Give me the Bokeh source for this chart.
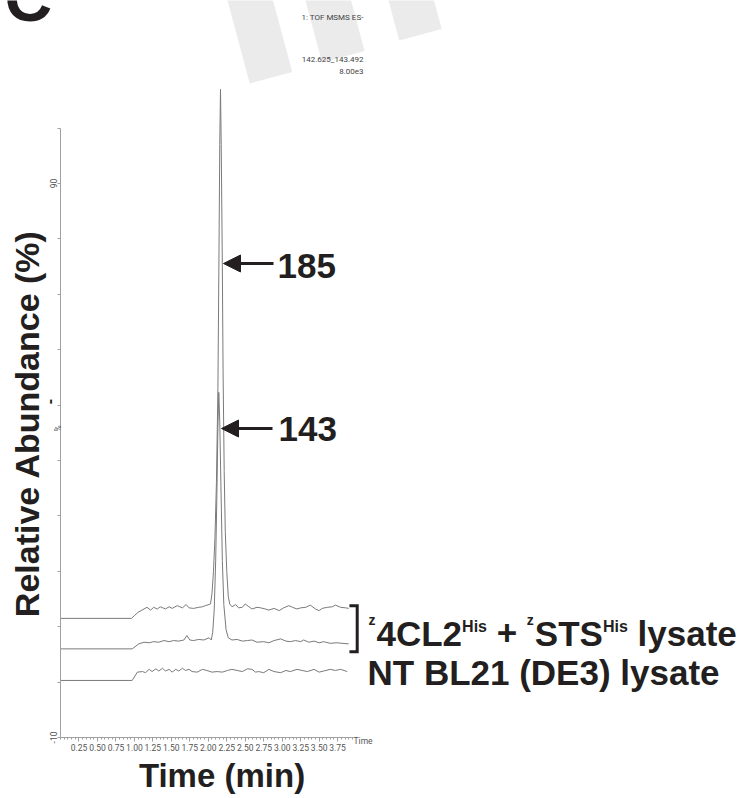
import math
from bokeh.plotting import figure
from bokeh.models import (Label, Arrow, NormalHead, FixedTicker, NumeralTickFormatter,
                          CustomJSTickFormatter, Range1d)
from bokeh.embed import file_html
from bokeh.resources import INLINE

# ---------------- data ----------------
# trace 1 : m/z 185 (zSTS + z4CL2 lysate), offset trace
t1 = [0.00, 0.96, 1.00, 1.05, 1.13, 1.17, 1.22, 1.26, 1.31, 1.35, 1.42, 1.47, 1.51, 1.58, 1.65,
      1.70, 1.74, 1.80, 1.87, 1.92, 1.96, 2.01, 2.03,
      2.05, 2.07, 2.09, 2.11, 2.13, 2.145, 2.155, 2.165, 2.175, 2.19, 2.20, 2.215, 2.23, 2.25,
      2.27, 2.29,
      2.32, 2.37, 2.41, 2.46, 2.50, 2.55, 2.59, 2.66, 2.71, 2.77, 2.82, 2.89, 2.96, 3.02, 3.09,
      3.14, 3.20, 3.25, 3.32, 3.38, 3.45, 3.50, 3.54, 3.61, 3.68, 3.72, 3.79, 3.86, 3.90]
v1 = [11.5, 11.5, 12.0, 12.6, 13.2, 13.5, 13.0, 13.5, 13.2, 13.6, 13.2, 13.6, 13.3, 13.8, 13.4,
      14.0, 13.4, 13.3, 13.5, 13.6, 13.8, 14.0, 14.1,
      16.0, 20.0, 26.0, 36.0, 53.0, 78.0, 97.0, 107.0, 97.0, 75.0, 56.0, 38.0, 27.0, 20.0,
      15.5, 14.1,
      13.6, 14.0, 13.4, 13.5, 14.1, 13.6, 13.2, 13.5, 13.4, 13.2, 13.0, 13.3, 12.9, 13.4, 13.8,
      13.5, 13.2, 13.4, 13.5, 13.9, 13.2, 12.9, 13.3, 13.5, 13.6, 13.9, 13.5, 13.4, 13.3]

# trace 2 : m/z 143 (zSTS + z4CL2 lysate)
t2 = [0.00, 0.97, 1.06, 1.13, 1.20, 1.26, 1.33, 1.40, 1.47, 1.53, 1.60, 1.67, 1.71, 1.75, 1.80,
      1.87, 1.94, 2.01, 2.04,
      2.06, 2.08, 2.10, 2.115, 2.13, 2.142, 2.155, 2.17, 2.19, 2.21, 2.24, 2.27,
      2.32, 2.39, 2.46, 2.53, 2.59, 2.66, 2.75, 2.82, 2.89, 2.98, 3.05, 3.11, 3.18, 3.25, 3.29,
      3.36, 3.43, 3.50, 3.56, 3.65, 3.74, 3.81, 3.90]
v2 = [6.0, 6.0, 6.9, 7.2, 7.1, 7.3, 7.2, 7.5, 7.3, 7.5, 7.4, 7.6, 8.4, 7.6, 7.5,
      7.7, 7.6, 8.0, 7.6,
      9.0, 13.0, 22.0, 33.0, 46.0, 52.3, 47.0, 36.0, 22.0, 14.0, 9.5, 8.0,
      7.6, 7.7, 7.4, 7.5, 7.6, 7.2, 7.3, 7.1, 7.5, 7.8, 7.4, 7.3, 7.5, 7.3, 7.6,
      7.2, 7.4, 7.1, 7.3, 7.0, 7.1, 7.0, 6.9]

# trace 3 : NT BL21 (DE3) lysate (control)
t3 = [0.00, 0.97, 1.04, 1.11, 1.15, 1.20, 1.24, 1.29, 1.33, 1.38, 1.42, 1.47, 1.51, 1.56, 1.60,
      1.65, 1.69, 1.74, 1.78, 1.85, 1.92, 1.98, 2.05, 2.12, 2.19, 2.26, 2.32, 2.39, 2.46, 2.53,
      2.59, 2.64, 2.68, 2.75, 2.82, 2.89, 2.98, 3.05, 3.11, 3.20, 3.27, 3.34, 3.43, 3.50, 3.56,
      3.65, 3.72, 3.79, 3.88]
v3 = [0.3, 0.3, 1.8, 1.9, 1.7, 2.3, 1.9, 2.4, 2.0, 2.5, 2.0, 2.3, 1.8, 2.3, 2.0,
      2.5, 2.1, 2.3, 1.9, 1.8, 2.3, 2.1, 1.8, 1.9, 1.8, 2.1, 2.3, 2.1, 1.9, 2.4,
      2.3, 1.8, 1.9, 1.7, 2.3, 1.9, 1.7, 2.1, 1.9, 2.3, 2.1, 1.9, 2.3, 1.8, 2.0,
      2.3, 2.1, 2.3, 1.9]

x_ticks = [0.25, 0.50, 0.75, 1.00, 1.25, 1.50, 1.75, 2.00, 2.25, 2.50, 2.75, 3.00, 3.25, 3.50, 3.75]
y_ticks = [-10, 0, 10, 20, 30, 40, 50, 60, 70, 80, 90, 100]
y_labelled = [90, -10]
x_axis_end = 3.97

# ---------------- layout helpers (canvas pixel -> data) ----------------
X0_PX, PX_PER_MIN = 60.0, 73.9
Y90_PX, PX_PER_UNIT = 183.0, 5.54
W_PX, H_PX = 744, 798
def tx(px):
    return (px - X0_PX) / PX_PER_MIN
def vy(py):
    return 90.0 - (py - Y90_PX) / PX_PER_UNIT

INK = "#231f20"
TRACE = "#7a7a7a"
AXIS = "#a0a0a0"
SMALL = "#555555"
BOLD = "Liberation Sans"
THIN = "Roboto"

p = figure(width=W_PX, height=H_PX, output_backend="svg", toolbar_location=None,
           x_range=Range1d(tx(0), tx(W_PX)), y_range=Range1d(vy(H_PX), vy(0)),
           min_border=0, background_fill_color="white", border_fill_color="white")
p.title.visible = False
p.outline_line_color = None
p.grid.visible = False

# ---- watermark stripes (decoration) ----
theta = math.radians(15)
stripe_specs = [(227, 83, 44), (305, 62, 44), (388, 40, 44)]  # top-left x, bottom-left y, width (px)
sx, sy = [], []
for x_top, y_bot, w in stripe_specs:
    xbl = x_top + math.tan(theta) * y_bot
    xbr = xbl + w * math.cos(theta)
    ybr = y_bot - w * math.sin(theta)
    xtr = xbr - math.tan(theta) * ybr
    pts = [(x_top - math.tan(theta) * 5, -5), (xtr - math.tan(theta) * 5, -5), (xbr, ybr), (xbl, y_bot)]
    sx.append([tx(a) for a, b in pts])
    sy.append([vy(b) for a, b in pts])
p.patches(sx, sy, fill_color="#ebebeb", line_color=None)

# ---- traces ----
for tt, vv in [(t3, v3), (t2, v2), (t1, v1)]:
    p.line(tt, vv, line_color=TRACE, line_width=1)

# ---- axes (fixed inside the frame) ----
xa = p.xaxis[0]
xa.fixed_location = -10
xa.bounds = (0, x_axis_end)
xa.ticker = FixedTicker(ticks=x_ticks, minor_ticks=[round(i * 0.05, 2) for i in range(0, 80)])
xa.formatter = NumeralTickFormatter(format="0.00")
xa.axis_line_color = AXIS
xa.major_tick_line_color = AXIS
xa.minor_tick_line_color = AXIS
xa.major_tick_in = 0
xa.major_tick_out = 4
xa.minor_tick_in = 0
xa.minor_tick_out = 2
xa.major_label_text_font = THIN
xa.major_label_text_font_size = "8.5px"
xa.major_label_text_color = SMALL
xa.major_label_standoff = 2

ya = p.yaxis[0]
ya.fixed_location = 0
ya.bounds = (-10, 100)
ya.ticker = FixedTicker(ticks=y_ticks, minor_ticks=[])
ya.formatter = CustomJSTickFormatter(args=dict(show=y_labelled),
                                     code="return show.indexOf(tick) >= 0 ? String(tick) : '';")
ya.axis_line_color = AXIS
ya.major_tick_line_color = AXIS
ya.major_tick_in = 0
ya.major_tick_out = 3
ya.minor_tick_line_color = None
ya.major_label_orientation = "vertical"
ya.major_label_text_font = THIN
ya.major_label_text_font_size = "8.5px"
ya.major_label_text_color = SMALL
ya.major_label_standoff = 1

def lab(text, x_px, y_mid_px, size, font=BOLD, style="bold", color=INK, align="left",
        angle=0.0):
    p.add_layout(Label(x=tx(x_px), y=vy(y_mid_px), text=text, text_font=font,
                       text_font_size=f"{size}px", text_font_style=style, text_color=color,
                       text_align=align, text_baseline="middle", angle=angle))

# axis titles
lab("Relative Abundance (%)", 26, 423, 34, align="center", angle=math.pi / 2)
lab("Time (min)", 221.5, 775, 33, align="center")
lab("Time", 353, 740, 8.5, font=THIN, style="normal", color=SMALL)
lab("%", 57, 428, 8.5, font=THIN, style="normal", color=SMALL, align="center", angle=math.pi / 2)
lab("-", 48, 401, 16, align="center", angle=math.pi / 2)

# panel letter and instrument header
lab("C", 4, -3, 66)
lab("1: TOF MSMS ES-", 363, 17, 8, font=THIN, style="normal", color="#444444", align="right")
lab("142.625_143.492", 363, 59, 8, font=THIN, style="normal", color="#444444", align="right")
lab("8.00e3", 363, 71, 8, font=THIN, style="normal", color="#444444", align="right")

# peak arrows and labels
for tail_px, tip_px, y_px in [(273, 223, 263), (272, 221, 428)]:
    p.add_layout(Arrow(end=NormalHead(size=17, fill_color=INK, line_color=INK),
                       x_start=tx(tail_px), y_start=vy(y_px), x_end=tx(tip_px), y_end=vy(y_px),
                       line_color=INK, line_width=3))
lab("185", 277, 265, 35)
lab("143", 278, 428.5, 35)

# bracket joining the two lysate traces
b_top = v1[-1] + 0.5
b_bot = v2[0] - 0.5
b_x = t1[-1] + 0.115
b_in = t1[-1] + 0.01
p.line([b_in, b_x, b_x, b_in], [b_top, b_top, b_bot, b_bot], line_color=INK,
       line_width=3, line_join="miter")

# legend text with superscripts
W = {'z': 500, '4': 556, 'C': 722, 'L': 611, '2': 556, 'H': 722, 'i': 278, 's': 556,
     ' ': 278, '+': 584, 'S': 667, 'T': 611, 'l': 278, 'y': 556, 'a': 556, 't': 333, 'e': 556}
def wpx(s, size):
    return sum(W.get(c, 556) for c in s) * size / 1000.0

MAIN, SUPZ, SUPH = (35, 632.5), (14, 619.5), (16, 626)
x = 368.0
for text, (size, mid), gap in [("z", SUPZ, 1), ("4CL2", MAIN, 0), ("His", SUPH, 0),
                               (" + ", MAIN, 0), ("z", SUPZ, 1), ("STS", MAIN, 0),
                               ("His", SUPH, 0), (" lysate", MAIN, 0)]:
    lead = len(text) - len(text.lstrip(" "))
    xs = x + wpx(" " * lead, size)
    lab(text.strip(), xs, mid, size)
    x += wpx(text, size) + gap
lab("NT BL21 (DE3) lysate", 367, 671.5, 35)

open("out.html", "w").write(file_html(p, INLINE))
